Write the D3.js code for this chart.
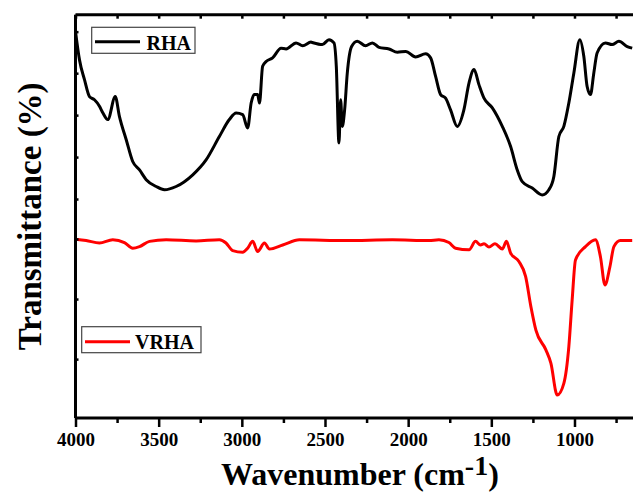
<!DOCTYPE html>
<html>
<head>
<meta charset="utf-8">
<script src="https://cdn.jsdelivr.net/npm/d3@7"></script>
<style>
  html, body { margin: 0; padding: 0; background: #fff; }
  svg { display: block; }
  text { font-family: "Liberation Serif", "Times New Roman", serif; font-weight: bold; fill: #000; }
</style>
</head>
<body>
<svg id="chart" width="633" height="497"></svg>
<script>
// FTIR spectra: wavenumber (cm^-1) and transmittance (%, offset traces)
const rhaWavenumber = [4000, 3976, 3946, 3916, 3886, 3856, 3836, 3806, 3761, 3736, 3695, 3656, 3615, 3575, 3515, 3465, 3395, 3295, 3215, 3135, 3075, 3034, 2995, 2965, 2944, 2925, 2905, 2894, 2875, 2854, 2815, 2764, 2734, 2674, 2634, 2584, 2576, 2516, 2476, 2446, 2432, 2416, 2406, 2396, 2382, 2366, 2340, 2306, 2256, 2215, 2175, 2115, 2065, 2015, 1955, 1895, 1865, 1835, 1805, 1775, 1745, 1705, 1665, 1634, 1604, 1574, 1544, 1494, 1434, 1384, 1344, 1314, 1254, 1194, 1154, 1124, 1094, 1064, 1034, 1004, 968, 944, 924, 904, 884, 864, 814, 774, 733, 683, 653];
const rhaTransmittance = [95.9, 88.8, 83.9, 79.7, 78.9, 77.3, 75.7, 74.0, 79.7, 74.8, 69.0, 63.6, 61.5, 59.1, 57.4, 56.6, 57.4, 60.3, 64.0, 69.8, 74.0, 75.6, 75.2, 71.9, 78.1, 80.2, 80.2, 78.1, 87.2, 88.4, 89.3, 91.7, 91.5, 93.0, 92.3, 93.2, 93.1, 92.6, 93.8, 93.0, 87.2, 68.2, 78.9, 72.3, 76.4, 85.5, 92.1, 93.4, 92.3, 93.0, 91.9, 91.5, 90.7, 90.9, 89.5, 90.3, 89.3, 84.7, 80.2, 79.3, 76.4, 72.3, 76.4, 83.1, 86.4, 82.6, 79.3, 76.9, 72.3, 67.3, 61.5, 58.6, 57.0, 55.3, 56.6, 59.9, 69.8, 72.3, 78.1, 85.5, 93.8, 89.7, 82.2, 80.2, 85.5, 90.5, 93.0, 92.6, 93.4, 92.1, 91.7];

const vrhaWavenumber = [4000, 3936, 3856, 3776, 3706, 3656, 3615, 3555, 3455, 3275, 3135, 3095, 3055, 2995, 2965, 2935, 2905, 2864, 2834, 2754, 2654, 2376, 2095, 1875, 1815, 1755, 1715, 1634, 1595, 1565, 1544, 1514, 1478, 1434, 1409, 1384, 1334, 1294, 1262, 1232, 1172, 1142, 1104, 1064, 1034, 1014, 994, 934, 874, 844, 817, 787, 763, 724, 653];
const vrhaTransmittance = [44.3, 44.0, 43.4, 44.2, 43.5, 42.1, 42.5, 43.8, 44.2, 43.9, 44.2, 43.4, 41.5, 41.1, 42.1, 43.8, 41.3, 43.4, 41.9, 42.9, 44.2, 44.0, 44.2, 44.0, 44.2, 43.5, 42.1, 41.7, 43.8, 42.9, 43.2, 42.4, 43.2, 41.9, 43.8, 40.9, 38.8, 35.1, 27.6, 21.8, 16.9, 13.6, 5.7, 8.6, 17.7, 29.3, 39.2, 42.5, 44.2, 40.0, 33.0, 37.5, 42.5, 44.0, 44.0];

const seriesNames = ["RHA", "VRHA"];
const seriesColors = ["#000000", "#ff0000"];

const xMajorTicks = [4000, 3500, 3000, 2500, 2000, 1500, 1000];
const xMinorTicks = [3750, 3250, 2750, 2250, 1750, 1250, 750];
const yTicks = [14.6, 29.5, 44.4, 54.3, 64.7, 75.1, 85.5, 95.8];

const W = 633, H = 497;
const plotLeft = 75.5, plotTop = 14.7, plotBottom = 418;

const x = d3.scaleLinear().domain([4000, 400]).range([plotLeft, plotLeft + 3600 * 0.16633]);
const y = d3.scaleLinear().domain([0, 100]).range([plotBottom, plotTop]);

const svg = d3.select("#chart");

svg.append("defs").append("clipPath").attr("id", "plotClip")
  .append("rect").attr("x", plotLeft).attr("y", plotTop).attr("width", W - plotLeft).attr("height", plotBottom - plotTop);

// spectra
const line = d3.line()
  .x(d => x(d[0]))
  .y(d => y(d[1]))
  .curve(d3.curveMonotoneX);

const series = [
  d3.zip(rhaWavenumber, rhaTransmittance),
  d3.zip(vrhaWavenumber, vrhaTransmittance)
];

svg.append("g").attr("clip-path", "url(#plotClip)")
  .selectAll("path").data(series).join("path")
  .attr("d", line)
  .attr("fill", "none")
  .attr("stroke", (d, i) => seriesColors[i])
  .attr("stroke-width", 3)
  .attr("stroke-linejoin", "round");

// frame: top edge with inward ticks
const topAxis = svg.append("g").attr("transform", `translate(0,${plotTop})`)
  .call(d3.axisBottom(x).tickValues(xMajorTicks.concat(xMinorTicks)).tickSize(4).tickFormat(""));

// bottom axis: major ticks with labels, minor ticks without
const bottomMajor = svg.append("g").attr("transform", `translate(0,${plotBottom})`)
  .call(d3.axisBottom(x).tickValues(xMajorTicks).tickSize(9).tickPadding(6).tickFormat(d3.format("d")));
const bottomMinor = svg.append("g").attr("transform", `translate(0,${plotBottom})`)
  .call(d3.axisBottom(x).tickValues(xMinorTicks).tickSize(5).tickFormat(""));

// left axis: inward ticks, no labels
const leftAxis = svg.append("g").attr("transform", `translate(${plotLeft},0)`)
  .call(d3.axisLeft(y).tickValues(yTicks).tickSize(-3).tickFormat(""));

[topAxis, bottomMajor, bottomMinor, leftAxis].forEach(g => {
  g.select(".domain").attr("stroke", "#000").attr("stroke-width", 3);
  g.selectAll(".tick line").attr("stroke", "#000").attr("stroke-width", 2.5);
});
topAxis.select(".domain").attr("d", `M${plotLeft},0H${W}`);
bottomMajor.select(".domain").attr("d", `M${plotLeft},0H${W}`);
bottomMinor.select(".domain").remove();
leftAxis.select(".domain").attr("d", `M0,${plotTop}V${plotBottom}`);
bottomMajor.selectAll(".tick text")
  .style("font-family", "'Liberation Serif', 'Times New Roman', serif")
  .style("font-weight", "bold")
  .style("font-size", "19px")
  .attr("fill", "#000");

// axis titles
const xTitle = svg.append("text")
  .attr("x", 221).attr("y", 485)
  .style("font-size", "32px");
xTitle.append("tspan").text("Wavenumber (cm");
xTitle.append("tspan").attr("dy", -10).style("font-size", "28px").text("-1");
xTitle.append("tspan").attr("dy", 10).text(")");

svg.append("text")
  .attr("transform", `translate(41,${(plotTop + plotBottom) / 2}) rotate(-90)`)
  .attr("text-anchor", "middle")
  .style("font-size", "33px")
  .text("Transmittance (%)");

// legends
const legends = [
  { box: [91.7, 27.3, 103.3, 26], line: [95, 140, 41.7], text: [146.5, 49.5], size: 20 },
  { box: [81.7, 326.7, 119.3, 26], line: [85, 130, 341.7], text: [135, 348.5], size: 20 }
];
legends.forEach((L, i) => {
  const g = svg.append("g");
  g.append("rect")
    .attr("x", L.box[0]).attr("y", L.box[1]).attr("width", L.box[2]).attr("height", L.box[3])
    .attr("fill", "#fff").attr("stroke", "#444").attr("stroke-width", 1.2);
  g.append("line")
    .attr("x1", L.line[0]).attr("x2", L.line[1]).attr("y1", L.line[2]).attr("y2", L.line[2])
    .attr("stroke", seriesColors[i]).attr("stroke-width", 3);
  g.append("text")
    .attr("x", L.text[0]).attr("y", L.text[1])
    .style("font-size", L.size + "px")
    .text(seriesNames[i]);
});
</script>
</body>
</html>
